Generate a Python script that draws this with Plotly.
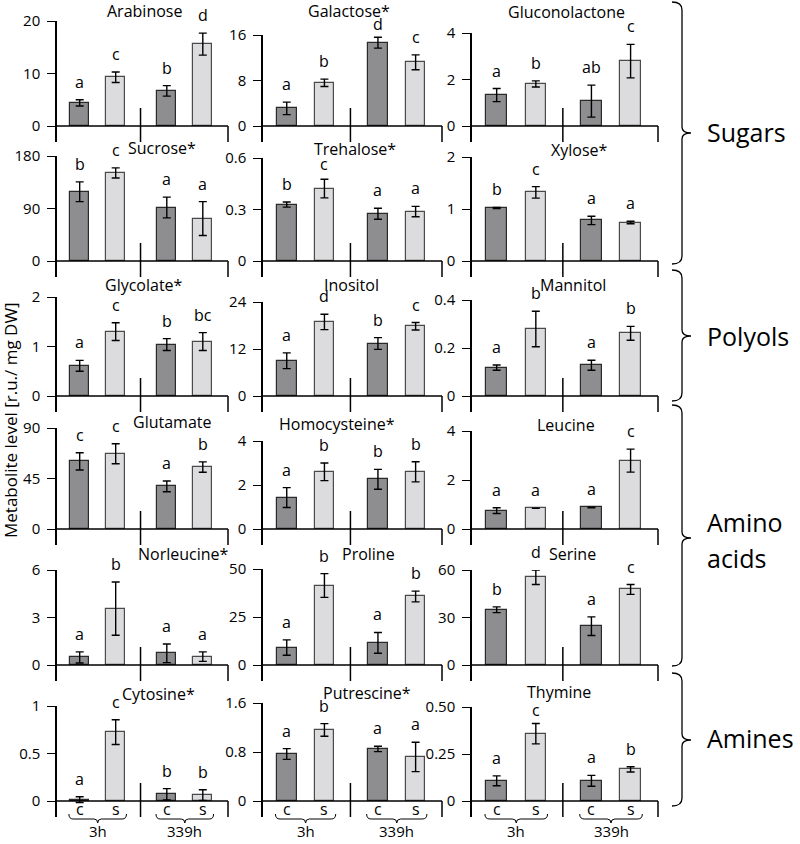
import plotly.graph_objects as go

# ---------------- data ----------------
conditions = ["c", "s", "c", "s"]
times = ["3h", "339h"]

arabinose_mean = [4.4, 9.3, 6.7, 15.6]
arabinose_err = [0.6, 1.0, 1.0, 2.1]
arabinose_sig = ["a", "c", "b", "d"]
arabinose_ticks = [0, 10, 20]

galactose_mean = [3.1, 7.6, 14.65, 11.2]
galactose_err = [1.1, 0.65, 0.95, 1.3]
galactose_sig = ["a", "b", "d", "c"]
galactose_ticks = [0, 8, 16]

gluconolactone_mean = [1.33, 1.81, 1.07, 2.79]
gluconolactone_err = [0.28, 0.13, 0.69, 0.72]
gluconolactone_sig = ["a", "b", "ab", "c"]
gluconolactone_ticks = [0, 2, 4]

sucrose_mean = [118.7, 151, 91.7, 72.8]
sucrose_err = [17, 8.6, 17.8, 29]
sucrose_sig = ["b", "c", "a", "a"]
sucrose_ticks = [0, 90, 180]

trehalose_mean = [0.329, 0.422, 0.275, 0.288]
trehalose_err = [0.015, 0.054, 0.032, 0.03]
trehalose_sig = ["b", "c", "a", "a"]
trehalose_ticks = [0, 0.3, 0.6]

xylose_mean = [1.02, 1.32, 0.78, 0.74]
xylose_err = [0.01, 0.11, 0.08, 0.025]
xylose_sig = ["b", "c", "a", "a"]
xylose_ticks = [0, 1, 2]

glycolate_mean = [0.61, 1.3, 1.04, 1.1]
glycolate_err = [0.11, 0.18, 0.12, 0.18]
glycolate_sig = ["a", "c", "b", "bc"]
glycolate_ticks = [0, 1, 2]

inositol_mean = [9.0, 18.9, 13.4, 17.8]
inositol_err = [2.0, 1.96, 1.5, 0.96]
inositol_sig = ["a", "d", "b", "c"]
inositol_ticks = [0, 12, 24]

mannitol_mean = [0.118, 0.279, 0.128, 0.261]
mannitol_err = [0.011, 0.074, 0.021, 0.029]
mannitol_sig = ["a", "b", "a", "b"]
mannitol_ticks = [0, 0.2, 0.4]

glutamate_mean = [60.3, 67.1, 38.0, 55.2]
glutamate_err = [7.7, 8.9, 4.8, 4.6]
glutamate_sig = ["c", "c", "a", "b"]
glutamate_ticks = [0, 45, 90]

homocysteine_mean = [1.43, 2.6, 2.26, 2.6]
homocysteine_err = [0.45, 0.4, 0.45, 0.46]
homocysteine_sig = ["a", "b", "b", "b"]
homocysteine_ticks = [0, 2, 4]

leucine_mean = [0.75, 0.85, 0.88, 2.79]
leucine_err = [0.12, 0.0, 0.01, 0.47]
leucine_sig = ["a", "a", "a", "c"]
leucine_ticks = [0, 2, 4]

norleucine_mean = [0.48, 3.56, 0.74, 0.53]
norleucine_err = [0.35, 1.68, 0.59, 0.3]
norleucine_sig = ["a", "b", "a", "a"]
norleucine_ticks = [0, 3, 6]

proline_mean = [9.1, 41.4, 11.55, 35.7]
proline_err = [4.0, 6.2, 5.4, 2.8]
proline_sig = ["a", "b", "a", "b"]
proline_ticks = [0, 25, 50]

serine_mean = [34.9, 55.4, 24.5, 47.7]
serine_err = [1.8, 4.6, 5.9, 3.1]
serine_sig = ["b", "d", "a", "c"]
serine_ticks = [0, 30, 60]

cytosine_mean = [0.014, 0.725, 0.07, 0.063]
cytosine_err = [0.03, 0.13, 0.06, 0.056]
cytosine_sig = ["a", "c", "b", "b"]
cytosine_ticks = [0, 0.5, 1]

putrescine_mean = [0.767, 1.16, 0.85, 0.72]
putrescine_err = [0.088, 0.104, 0.044, 0.24]
putrescine_sig = ["a", "b", "a", "a"]
putrescine_ticks = [0, 0.8, 1.6]

thymine_mean = [0.1075, 0.358, 0.1075, 0.168]
thymine_err = [0.026, 0.054, 0.029, 0.014]
thymine_sig = ["a", "c", "a", "b"]
thymine_ticks = [0, 0.25, 0.5]
thymine_ticklabels = ["0", "0.25", "0.50"]

groups = ["Sugars", "Polyols", "Amino acids", "Amines"]
y_label = "Metabolite level [r.u./ mg DW]"

panels = [
    ("Arabinose", arabinose_mean, arabinose_err, arabinose_sig, arabinose_ticks, None),
    ("Galactose*", galactose_mean, galactose_err, galactose_sig, galactose_ticks, None),
    ("Gluconolactone", gluconolactone_mean, gluconolactone_err, gluconolactone_sig, gluconolactone_ticks, None),
    ("Sucrose*", sucrose_mean, sucrose_err, sucrose_sig, sucrose_ticks, None),
    ("Trehalose*", trehalose_mean, trehalose_err, trehalose_sig, trehalose_ticks, None),
    ("Xylose*", xylose_mean, xylose_err, xylose_sig, xylose_ticks, None),
    ("Glycolate*", glycolate_mean, glycolate_err, glycolate_sig, glycolate_ticks, None),
    ("Inositol", inositol_mean, inositol_err, inositol_sig, inositol_ticks, None),
    ("Mannitol", mannitol_mean, mannitol_err, mannitol_sig, mannitol_ticks, None),
    ("Glutamate", glutamate_mean, glutamate_err, glutamate_sig, glutamate_ticks, None),
    ("Homocysteine*", homocysteine_mean, homocysteine_err, homocysteine_sig, homocysteine_ticks, None),
    ("Leucine", leucine_mean, leucine_err, leucine_sig, leucine_ticks, None),
    ("Norleucine*", norleucine_mean, norleucine_err, norleucine_sig, norleucine_ticks, None),
    ("Proline", proline_mean, proline_err, proline_sig, proline_ticks, None),
    ("Serine", serine_mean, serine_err, serine_sig, serine_ticks, None),
    ("Cytosine*", cytosine_mean, cytosine_err, cytosine_sig, cytosine_ticks, None),
    ("Putrescine*", putrescine_mean, putrescine_err, putrescine_sig, putrescine_ticks, None),
    ("Thymine", thymine_mean, thymine_err, thymine_sig, thymine_ticks, thymine_ticklabels),
]

# ---------------- layout constants (pixels) ----------------
W, H = 800, 844
FONT = "Open Sans"
DARK, LIGHT = "#8e8e90", "#dcdcde"
COL_X = [(57, 228), (263, 442), (472, 658)]
ROW_ZERO = [126, 261, 396, 529, 665, 801]
TOP_PX = [[21, 35, 33], [156, 158, 157], [297, 302, 300],
          [428, 441, 431], [570, 569, 570], [706, 703, 707]]
TITLE_XY = [(144, 11), (349, 11), (566, 12),
            (162, 148), (355, 149), (579, 150),
            (144, 285), (351, 285), (573, 285),
            (172, 422), (337, 424), (566, 425),
            (183, 554), (368, 554), (572, 554),
            (158, 694), (367, 693), (559, 692)]
LETTER_SHIFT = 5
LETTER_SHIFT_OVERRIDE = {(1, 2): 0, (4, 1): 2, (17, 1): 1}
BAR_POS = [0.63, 1.63, 3.05, 4.05]
MID = 2.32
XEND = 4.75
XMAX = 4.8
BAR_W = 0.52
EXT_BELOW = 16
EXT_ABOVE = 18


def px(x):
    return x / W


def py(y):
    return 1 - y / H


fig = go.Figure()
shapes = []
annotations = []
layout = {}

for i, (name, mean, err, sig, ticks, ticklabels) in enumerate(panels):
    r, c = divmod(i, 3)
    n = i + 1
    xa = "x" if n == 1 else f"x{n}"
    ya = "y" if n == 1 else f"y{n}"
    x0, x1 = COL_X[c]
    zero = ROW_ZERO[r]
    top = TOP_PX[r][c]
    ymax = ticks[-1]
    unit = ymax / (zero - top)
    ybot = -EXT_BELOW * unit
    pxu = (x1 - x0) / XEND
    layout[f"xaxis{n}"] = dict(domain=[px(x0), px(x0 + XMAX * pxu)], range=[0, XMAX],
                               visible=False, anchor=ya, fixedrange=True, automargin=False)
    layout[f"yaxis{n}"] = dict(
        domain=[py(zero + EXT_BELOW), py(top)], range=[ybot, ymax], anchor=xa,
        tickvals=ticks, ticktext=ticklabels if ticklabels else [f"{t:g}" for t in ticks],
        ticks="outside", ticklen=8, tickwidth=1.3, tickcolor="black",
        showline=True, linecolor="black", linewidth=1.5, automargin=False,
        showgrid=False, zeroline=False, ticklabelstandoff=4,
        tickfont=dict(family=FONT, size=15, color="black"), fixedrange=True)

    fig.add_trace(go.Bar(
        x=BAR_POS, y=mean, width=BAR_W, xaxis=xa, yaxis=ya, showlegend=False,
        marker=dict(color=[DARK, LIGHT, DARK, LIGHT],
                    line=dict(color=["#2a2a2a", "#4a4a4a", "#2a2a2a", "#4a4a4a"], width=1.2)),
        error_y=dict(type="data", array=err, color="black", thickness=1.4, width=4),
    ))

    # axis baseline, middle divider, right end tick
    shapes.append(dict(type="line", xref=xa, yref=ya, x0=0, x1=XEND, y0=0, y1=0,
                       line=dict(color="black", width=1.5)))
    shapes.append(dict(type="line", xref=xa, yref=ya, x0=MID, x1=MID,
                       y0=EXT_ABOVE * unit, y1=ybot, line=dict(color="black", width=1.5)))
    shapes.append(dict(type="line", xref=xa, yref=ya, x0=XEND, x1=XEND,
                       y0=0, y1=ybot, line=dict(color="black", width=1.5)))

    for j, (xp, m, e, s) in enumerate(zip(BAR_POS, mean, err, sig)):
        annotations.append(dict(x=xp, y=m + e, xref=xa, yref=ya, text=s, showarrow=False,
                                yanchor="bottom",
                                yshift=LETTER_SHIFT_OVERRIDE.get((i, j), LETTER_SHIFT),
                                font=dict(family=FONT, size=16, color="black")))

    tx, ty = TITLE_XY[i]
    annotations.append(dict(x=px(tx), y=py(ty), xref="paper", yref="paper", text=name,
                            showarrow=False, xanchor="center", yanchor="middle",
                            font=dict(family=FONT, size=16, color="black")))

    if r == 5:
        for xp, cond in zip(BAR_POS, conditions):
            annotations.append(dict(x=xp, y=py(809), xref=xa, yref="paper", text=cond,
                                    showarrow=False, yanchor="middle",
                                    font=dict(family=FONT, size=16, color="black")))
        for k, t in enumerate(times):
            a, b = BAR_POS[2 * k] - 0.3, BAR_POS[2 * k + 1] + 0.3
            m = (a + b) / 2
            path = (f"M {a},{py(814)} Q {a},{py(819)} {a + 0.12},{py(819)} "
                    f"L {m - 0.1},{py(819)} Q {m},{py(819)} {m},{py(823)} "
                    f"Q {m},{py(819)} {m + 0.1},{py(819)} L {b - 0.12},{py(819)} "
                    f"Q {b},{py(819)} {b},{py(814)}")
            shapes.append(dict(type="path", xref=xa, yref="paper", path=path,
                               line=dict(color="black", width=1)))
            annotations.append(dict(x=m, y=py(831), xref=xa, yref="paper", text=t,
                                    showarrow=False, yanchor="middle",
                                    font=dict(family=FONT, size=15, color="black")))


def brace(top, bot, tip, xv=682, xe=672, xt=691):
    p = (f"M {px(xe)},{py(top)} Q {px(xv)},{py(top)} {px(xv)},{py(top + 8)} "
         f"L {px(xv)},{py(tip - 6)} Q {px(xv)},{py(tip)} {px(xt)},{py(tip)} "
         f"Q {px(xv)},{py(tip)} {px(xv)},{py(tip + 6)} "
         f"L {px(xv)},{py(bot - 8)} Q {px(xv)},{py(bot)} {px(xe)},{py(bot)}")
    return dict(type="path", xref="paper", yref="paper", path=p,
                line=dict(color="black", width=1.3))


shapes += [brace(2, 264, 133), brace(270, 401, 336), brace(405, 666, 538), brace(673, 806, 740)]

group_pos = [(["Sugars"], [132]), (["Polyols"], [336]),
             (["Amino", "acids"], [522, 558]), (["Amines"], [738])]
for words, ys in group_pos:
    for w, yy in zip(words, ys):
        annotations.append(dict(x=px(705), y=py(yy), xref="paper", yref="paper", text=w,
                                showarrow=False, xanchor="left", yanchor="middle",
                                font=dict(family=FONT, size=25, color="black")))

annotations.append(dict(x=px(11), y=py(420), xref="paper", yref="paper", text=y_label,
                        showarrow=False, textangle=-90, xanchor="center", yanchor="middle",
                        font=dict(family=FONT, size=17, color="black")))

fig.update_layout(width=W, height=H, margin=dict(l=0, r=0, t=0, b=0, autoexpand=False),
                  template="none",
                  paper_bgcolor="white", plot_bgcolor="rgba(0,0,0,0)",
                  shapes=shapes, annotations=annotations, bargap=0, **layout)

fig.write_html("out.html", config={"displayModeBar": False},
               post_script="document.body.style.margin='0px';document.body.style.overflow='hidden';")
